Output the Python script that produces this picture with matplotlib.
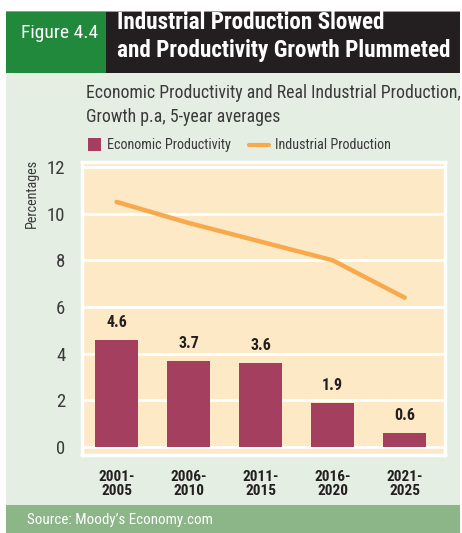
import matplotlib
matplotlib.use("Agg")
import matplotlib.pyplot as plt
from matplotlib import font_manager as fm
from matplotlib.patches import Rectangle

# --------------------------------------------------------------------------- #
# Data: 5-year averages, growth p.a. (%)
# --------------------------------------------------------------------------- #
periods = ["2001-\n2005", "2006-\n2010", "2011-\n2015", "2016-\n2020", "2021-\n2025"]
productivity = [4.6, 3.7, 3.6, 1.9, 0.6]
industrial = [10.5, 9.6, 8.8, 8.0, 6.4]
yticks = [0, 2, 4, 6, 8, 10, 12]

GREEN = "#21893c"
DARK = "#231f20"
PANEL = "#e4eee3"
FOOTER = "#8cb588"
PLOT_BG = "#fde9c6"
BAR = "#a53f5f"
LINE = "#f7a94c"
INK = "#3a3a3a"


# a narrow face suits the layout; fall back to Liberation Sans if none exists
def find_face(bold):
    want = "bold" if bold else "normal"
    narrow = [f for f in fm.fontManager.ttflist
              if f.stretch in ("condensed", "semi-condensed", "extra-condensed")
              or "Narrow" in f.name or "Condensed" in f.name]
    for fam in ["Liberation Sans Narrow", "Roboto Condensed", "Noto Sans",
                "Open Sans", "Roboto", "DejaVu Sans", "Noto Sans Condensed"]:
        for f in narrow:
            if f.name == fam and f.style == "normal":
                w = f.weight if isinstance(f.weight, int) else (700 if f.weight == "bold" else 400)
                if (w >= 600) == bold:
                    return fm.FontProperties(fname=f.fname)
    return fm.FontProperties(family="Liberation Sans", weight=want)


REG = find_face(False)
BOLD = find_face(True)
NARROW = "Liberation Sans" not in (REG.get_family() or [""])[0]


def fp(base, size):
    p = base.copy()
    p.set_size(size if NARROW else size * 0.86)
    return p


W, H = 462, 533
fig = plt.figure(figsize=(W / 100, H / 100), dpi=100)


def box(x0, y0, x1, y1, color):
    # pixel coords, y measured from the top
    fig.patches.append(Rectangle((x0 / W, 1 - y1 / H), (x1 - x0) / W, (y1 - y0) / H,
                                 transform=fig.transFigure, facecolor=color,
                                 edgecolor="none", zorder=-5))


def ftext(x, y, s, **kw):
    fig.text(x / W, 1 - y / H, s, **kw)


# header band, panel and footer
box(6, 11, 460, 12, "#9a9a9a")
box(6, 12, 106, 73, GREEN)
box(106, 12, 460, 73, DARK)
box(6, 73, 460, 505, PANEL)
box(6, 505, 460, 533, FOOTER)

ftext(21, 33, "Figure 4.4", color="white", fontproperties=fp(REG, 14),
      va="center", ha="left")
ftext(117, 22, "Industrial Production Slowed", color="white",
      fontproperties=fp(BOLD, 16.7), va="center", ha="left")
ftext(117, 50, "and Productivity Growth Plummeted", color="white",
      fontproperties=fp(BOLD, 16.7), va="center", ha="left")

ftext(86, 93, "Economic Productivity and Real Industrial Production,",
      color=INK, fontproperties=fp(REG, 12.8), va="center", ha="left")
ftext(86, 117, "Growth p.a, 5-year averages", color=INK,
      fontproperties=fp(REG, 12.8), va="center", ha="left")

# legend drawn by hand so it sits on one row under the subtitle
box(88, 138, 101, 151, BAR)
ftext(107, 145, "Economic Productivity", color=INK, fontproperties=fp(REG, 10.2),
      va="center", ha="left")
fig.lines.append(plt.Line2D([249 / W, 269 / W], [1 - 145 / H] * 2,
                            transform=fig.transFigure, color=LINE, lw=3,
                            solid_capstyle="round"))
ftext(275, 145, "Industrial Production", color=INK, fontproperties=fp(REG, 10.2),
      va="center", ha="left")

ftext(27, 520, "Source: Moody\u2019s Economy.com", color="white",
      fontproperties=fp(REG, 10.8), va="center", ha="left")

# --------------------------------------------------------------------------- #
# Plot area
# --------------------------------------------------------------------------- #
ax = fig.add_axes([82 / W, 1 - 455 / H, (445 - 82) / W, (455 - 162) / H])
ax.set_facecolor(PLOT_BG)
x = list(range(len(periods)))

ax.bar(x, productivity, width=0.6, color=BAR, zorder=3)
ax.plot(x, industrial, color=LINE, lw=3.2, solid_capstyle="round",
        solid_joinstyle="round", zorder=4)

for xi, v in zip(x, productivity):
    ax.annotate(f"{v}", (xi, v), xytext=(0, 7), textcoords="offset points",
                ha="center", va="bottom", fontproperties=fp(BOLD, 11.5),
                color=DARK)

ax.set_xlim(-0.48, 4.56)
ax.set_ylim(-0.34, 12.21)
ax.set_yticks(yticks)
ax.set_yticklabels([str(t) for t in yticks], color=INK)
ax.set_xticks(x)
ax.set_xticklabels(periods, color=DARK, linespacing=0.95)
for lab in ax.get_yticklabels():
    lab.set_fontproperties(fp(REG, 13.5))
for lab in ax.get_xticklabels():
    lab.set_fontproperties(fp(BOLD, 11))
ax.tick_params(axis="y", length=0, pad=12)
ax.tick_params(axis="x", length=0, pad=11)

ax.grid(axis="y", color="white", lw=2, zorder=1)
ax.set_axisbelow(True)
for s in ax.spines.values():
    s.set_color("white")
    s.set_linewidth(2.5)

ftext(32, 193, "Percentages", color=INK, fontproperties=fp(REG, 10.2),
      rotation=90, va="center", ha="center")

fig.savefig("out.png", dpi=100)
